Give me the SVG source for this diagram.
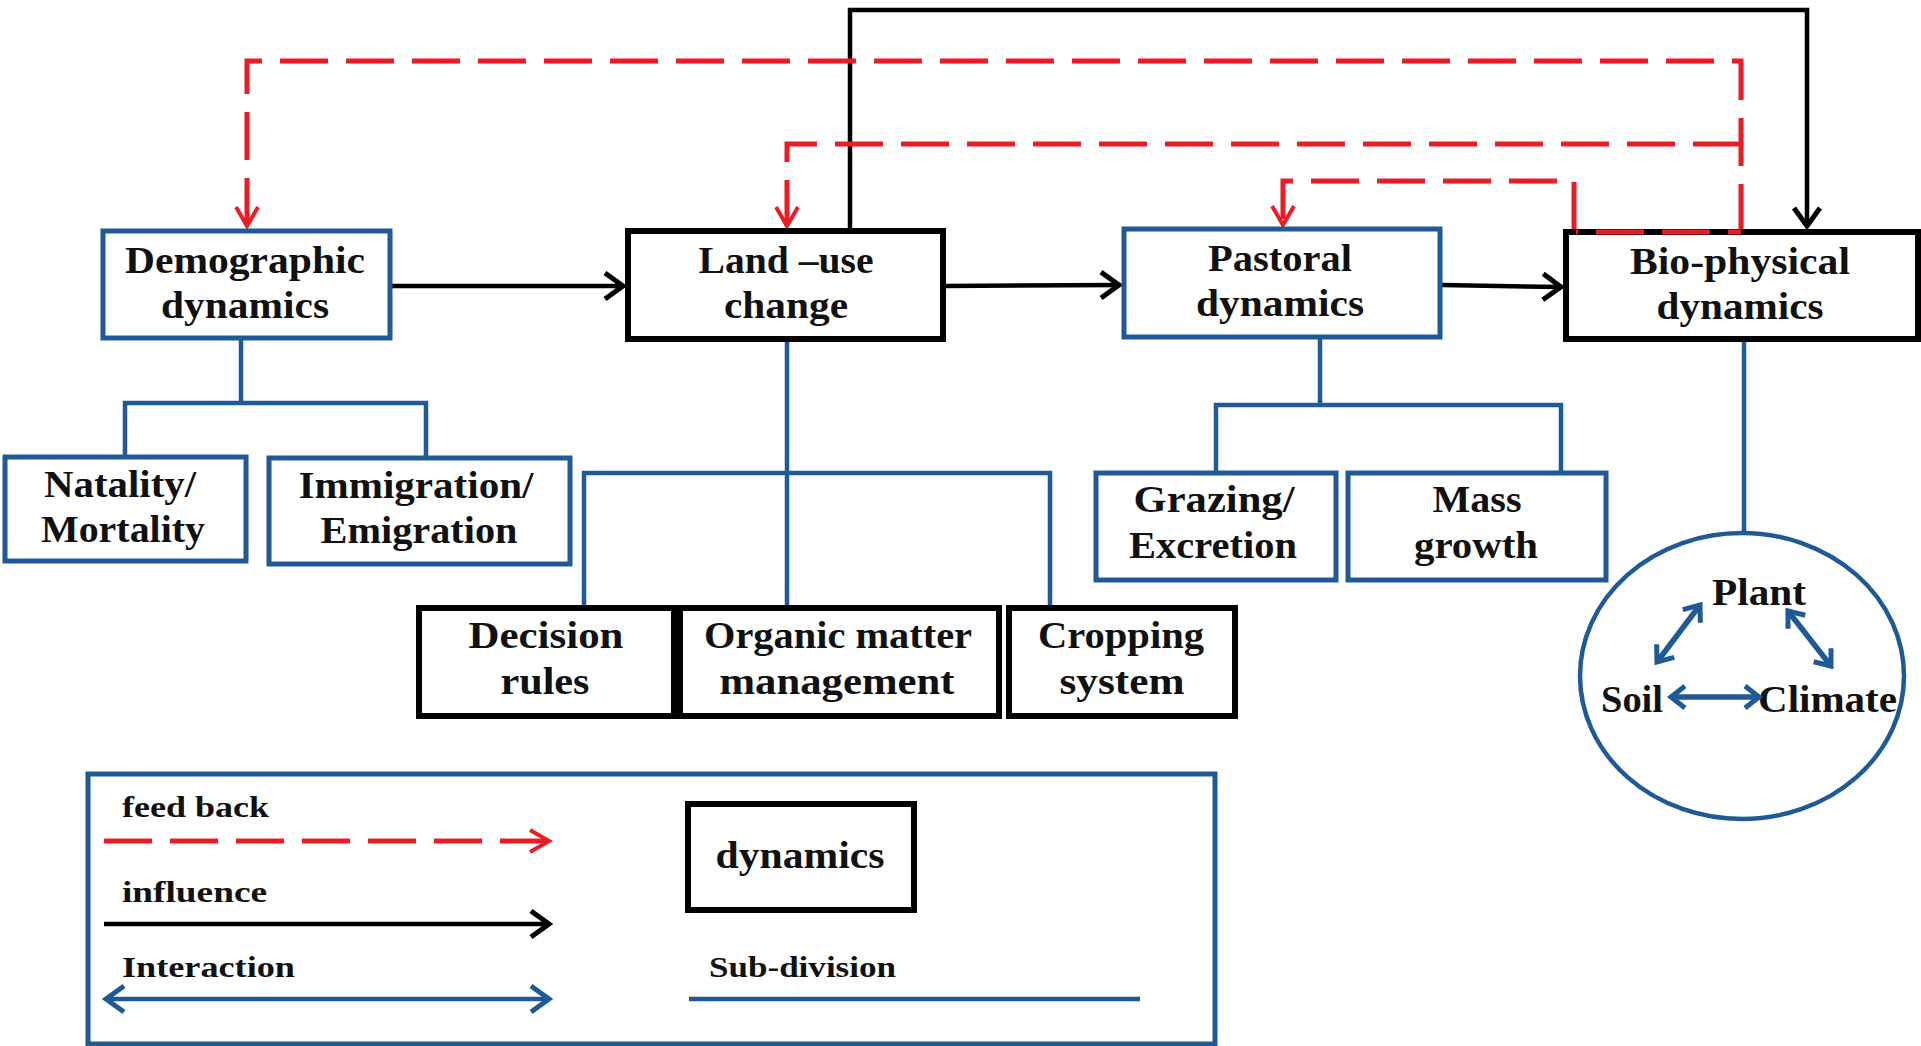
<svg xmlns="http://www.w3.org/2000/svg" width="1921" height="1046" viewBox="0 0 1921 1046">
  <style>
    .txt { font-family: "Liberation Serif", "DejaVu Serif", serif; font-weight: bold; font-size: 37px; fill: #111; }
    .lg { font-size: 30px; }
    .boxB { fill: #fff; stroke: #1F5A96; stroke-width: 5; }
    .boxK { fill: #fff; stroke: #000; stroke-width: 6; }
    .sub { fill: none; stroke: #1F5A96; stroke-width: 4.5; }
    .infl { fill: none; stroke: #000; stroke-width: 4.5; }
    .fb { fill: none; stroke: #ED1C24; stroke-width: 5; stroke-dasharray: 48 18; }
    .inter { fill: none; stroke: #1F5A96; stroke-width: 4.5; }
    .inter-s { fill: none; stroke: #1F5A96; stroke-width: 5.5; }
  </style>
  <defs>
    <marker id="ahK" markerUnits="userSpaceOnUse" markerWidth="32" markerHeight="32" refX="24" refY="16" orient="auto">
      <path d="M6,3 L24,16 L6,29" fill="none" stroke="#000" stroke-width="5"/>
    </marker>
    <marker id="ahR" markerUnits="userSpaceOnUse" markerWidth="32" markerHeight="32" refX="24" refY="16" orient="auto">
      <path d="M5,5 L24,16 L5,27" fill="none" stroke="#ED1C24" stroke-width="4"/>
    </marker>
    <marker id="ahB" markerUnits="userSpaceOnUse" markerWidth="32" markerHeight="32" refX="24" refY="16" orient="auto-start-reverse">
      <path d="M6,3 L24,16 L6,29" fill="none" stroke="#1F5A96" stroke-width="5"/>
    </marker>
    <marker id="ahBs" markerUnits="userSpaceOnUse" markerWidth="28" markerHeight="28" refX="20" refY="14" orient="auto-start-reverse">
      <path d="M6,3 L20,14 L6,25" fill="none" stroke="#1F5A96" stroke-width="5"/>
    </marker>
  </defs>
  <rect width="1921" height="1046" fill="#fff"/>

  <!-- connectors -->
  <g id="connectors">
    <!-- sub-division lines -->
    <path class="sub" d="M241,338 V403 M125,457 V403 H426 V458"/>
    <path class="sub" d="M787,339 V608 M584,608 V473 H1050 V608"/>
    <path class="sub" d="M1320,337 V405 M1216,473 V405 H1561 V473"/>
    <path class="sub" d="M1744,339 V533"/>
    <!-- influence arrows -->
    <path class="infl" d="M392,286 H623" marker-end="url(#ahK)"/>
    <path class="infl" d="M945,286 L1119,285" marker-end="url(#ahK)"/>
    <path class="infl" d="M1442,285 L1561,287" marker-end="url(#ahK)"/>
    <path class="infl" d="M850,231 V10 H1807 V226" marker-end="url(#ahK)"/>
    <!-- feed back loops -->
    <path class="fb" d="M1741,232 V61 H247 V226" marker-end="url(#ahR)"/>
    <path class="fb" d="M1741,144 H787 V226" marker-end="url(#ahR)"/>
    <path class="fb" d="M1574,230 V181 H1283 V225" marker-end="url(#ahR)"/>
  </g>

  <!-- top row -->
  <g id="demographic">
    <rect class="boxB" x="103" y="231" width="287" height="107"/>
    <text class="txt" x="245" y="273" text-anchor="middle" textLength="240" lengthAdjust="spacingAndGlyphs">Demographic</text>
    <text class="txt" x="245" y="318" text-anchor="middle" textLength="168" lengthAdjust="spacingAndGlyphs">dynamics</text>
  </g>
  <g id="land-use">
    <rect class="boxK" x="628" y="231" width="315" height="108"/>
    <text class="txt" x="786" y="273" text-anchor="middle" textLength="175" lengthAdjust="spacingAndGlyphs">Land –use</text>
    <text class="txt" x="786" y="318" text-anchor="middle" textLength="124" lengthAdjust="spacingAndGlyphs">change</text>
  </g>
  <g id="pastoral">
    <rect class="boxB" x="1124" y="229" width="316" height="108"/>
    <text class="txt" x="1280" y="271" text-anchor="middle" textLength="144" lengthAdjust="spacingAndGlyphs">Pastoral</text>
    <text class="txt" x="1280" y="316" text-anchor="middle" textLength="168" lengthAdjust="spacingAndGlyphs">dynamics</text>
  </g>
  <g id="bio-physical">
    <rect class="boxK" x="1566" y="232" width="352" height="107"/>
    <text class="txt" x="1740" y="274" text-anchor="middle" textLength="220" lengthAdjust="spacingAndGlyphs">Bio-physical</text>
    <text class="txt" x="1740" y="319" text-anchor="middle" textLength="167" lengthAdjust="spacingAndGlyphs">dynamics</text>
  </g>
  <!-- feed back dashes running over the top edge of the bio-physical box -->
  <path class="fb" d="M1576,232 H1741" stroke-dashoffset="-20"/>

  <!-- sub-divisions -->
  <g id="natality">
    <rect class="boxB" x="5" y="457" width="241" height="104"/>
    <text class="txt" x="120" y="497" text-anchor="middle" textLength="152" lengthAdjust="spacingAndGlyphs">Natality/</text>
    <text class="txt" x="123" y="542" text-anchor="middle" textLength="164" lengthAdjust="spacingAndGlyphs">Mortality</text>
  </g>
  <g id="immigration">
    <rect class="boxB" x="269" y="458" width="301" height="106"/>
    <text class="txt" x="416" y="498" text-anchor="middle" textLength="235" lengthAdjust="spacingAndGlyphs">Immigration/</text>
    <text class="txt" x="419" y="543" text-anchor="middle" textLength="197" lengthAdjust="spacingAndGlyphs">Emigration</text>
  </g>
  <g id="decision">
    <rect class="boxK" x="419" y="608" width="255" height="108"/>
    <text class="txt" x="546" y="648" text-anchor="middle" textLength="155" lengthAdjust="spacingAndGlyphs">Decision</text>
    <text class="txt" x="545" y="694" text-anchor="middle" textLength="89" lengthAdjust="spacingAndGlyphs">rules</text>
  </g>
  <g id="organic-matter">
    <rect class="boxK" x="680" y="608" width="319" height="108"/>
    <text class="txt" x="838" y="648" text-anchor="middle" textLength="268" lengthAdjust="spacingAndGlyphs">Organic matter</text>
    <text class="txt" x="837" y="694" text-anchor="middle" textLength="235" lengthAdjust="spacingAndGlyphs">management</text>
  </g>
  <g id="cropping">
    <rect class="boxK" x="1009" y="608" width="226" height="108"/>
    <text class="txt" x="1121" y="648" text-anchor="middle" textLength="166" lengthAdjust="spacingAndGlyphs">Cropping</text>
    <text class="txt" x="1122" y="694" text-anchor="middle" textLength="125" lengthAdjust="spacingAndGlyphs">system</text>
  </g>
  <g id="grazing">
    <rect class="boxB" x="1096" y="473" width="240" height="107"/>
    <text class="txt" x="1214" y="512" text-anchor="middle" textLength="161" lengthAdjust="spacingAndGlyphs">Grazing/</text>
    <text class="txt" x="1213" y="558" text-anchor="middle" textLength="168" lengthAdjust="spacingAndGlyphs">Excretion</text>
  </g>
  <g id="mass-growth">
    <rect class="boxB" x="1348" y="473" width="258" height="107"/>
    <text class="txt" x="1477" y="512" text-anchor="middle" textLength="89" lengthAdjust="spacingAndGlyphs">Mass</text>
    <text class="txt" x="1476" y="558" text-anchor="middle" textLength="124" lengthAdjust="spacingAndGlyphs">growth</text>
  </g>
  <g id="bio-components">
    <ellipse cx="1742" cy="676" rx="162" ry="143" fill="#fff" stroke="#1F5A96" stroke-width="4.5"/>
    <text class="txt" x="1759" y="605" text-anchor="middle" textLength="94" lengthAdjust="spacingAndGlyphs">Plant</text>
    <text class="txt" x="1601" y="712" textLength="62" lengthAdjust="spacingAndGlyphs">Soil</text>
    <text class="txt" x="1758" y="712" textLength="139" lengthAdjust="spacingAndGlyphs">Climate</text>
    <path class="inter-s" d="M1657,662 L1700,605" marker-start="url(#ahBs)" marker-end="url(#ahBs)"/>
    <path class="inter-s" d="M1788,611 L1831,666" marker-start="url(#ahBs)" marker-end="url(#ahBs)"/>
    <path class="inter-s" d="M1671,697 H1759" marker-start="url(#ahBs)" marker-end="url(#ahBs)"/>
  </g>

  <!-- legend -->
  <g id="legend">
    <rect x="88" y="774" width="1127" height="270" fill="none" stroke="#1F5A96" stroke-width="5"/>
    <text class="txt lg" x="122" y="817" textLength="147" lengthAdjust="spacingAndGlyphs">feed back</text>
    <path class="fb" d="M104,841 H549" marker-end="url(#ahR)"/>
    <text class="txt lg" x="122" y="902" textLength="145" lengthAdjust="spacingAndGlyphs">influence</text>
    <path class="infl" d="M104,924 H549" marker-end="url(#ahK)"/>
    <text class="txt lg" x="122" y="977" textLength="173" lengthAdjust="spacingAndGlyphs">Interaction</text>
    <path class="inter" d="M106,999 H549" marker-start="url(#ahB)" marker-end="url(#ahB)"/>
    <rect class="boxK" x="688" y="804" width="226" height="106"/>
    <text class="txt" x="800" y="868" text-anchor="middle" textLength="169" lengthAdjust="spacingAndGlyphs">dynamics</text>
    <text class="txt lg" x="709" y="977" textLength="187" lengthAdjust="spacingAndGlyphs">Sub-division</text>
    <path class="sub" d="M689,999 H1140"/>
  </g>
</svg>
